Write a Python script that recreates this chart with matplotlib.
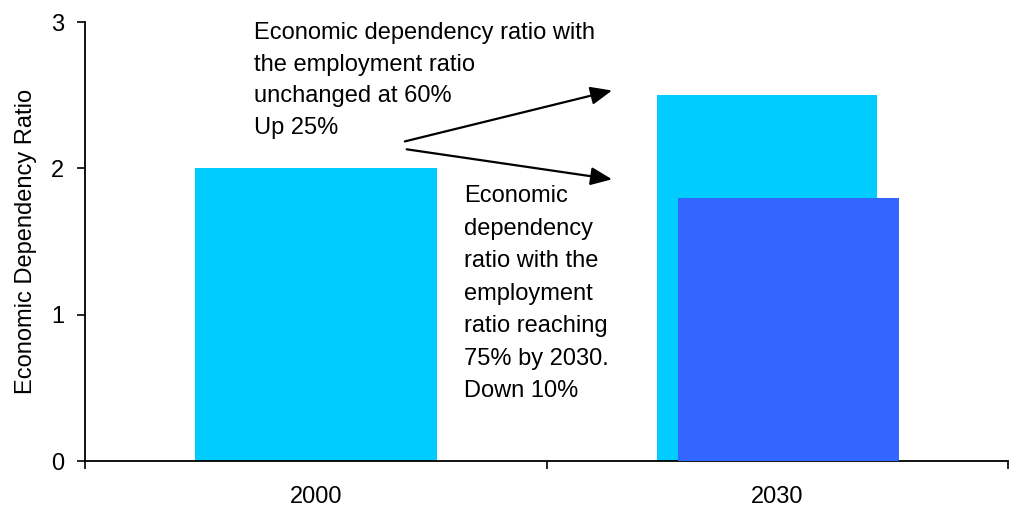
import matplotlib
matplotlib.use("Agg")
import matplotlib.pyplot as plt

plt.rcParams['font.family'] = ['Liberation Sans', 'DejaVu Sans']

categories = ["2000", "2030"]
unchanged_values = [2.0, 2.5]      # light blue
reaching_values = [None, 1.8]      # dark blue (2030 only)
y_ticks = [0, 1, 2, 3]

light = "#00CCFF"
dark = "#3366FF"

fig = plt.figure(figsize=(10.19, 5.08), dpi=100)
ax = fig.add_axes([85/1019, 1-461/508, (1008-85)/1019, (461-22)/508])

centers = [i + 0.5 for i in range(len(categories))]
# 2000 bar
ax.bar(centers[0], unchanged_values[0], width=0.524, color=light, zorder=2)
# 2030 bars
ax.bar(centers[1] - 0.022, unchanged_values[1], width=0.477, color=light, zorder=2)
ax.bar(centers[1] + 0.024, reaching_values[1], width=0.479, color=dark, zorder=3)

ax.set_xlim(0, len(categories))
ax.set_ylim(0, 3)
ax.set_yticks(y_ticks)
ax.set_xticks(centers)
ax.set_xticklabels(categories)
ax.set_xticks(range(len(categories) + 1), minor=True)
ax.tick_params(axis='x', which='major', length=0, pad=18, labelsize=17)
ax.tick_params(axis='x', which='minor', length=6, width=1.2, direction='out')
ax.tick_params(axis='y', length=6, width=1.2, direction='out', pad=9, labelsize=17)

for s in ['top', 'right']:
    ax.spines[s].set_visible(False)
for s in ['left', 'bottom']:
    ax.spines[s].set_linewidth(1.3)

ax.set_ylabel("Economic Dependency Ratio", fontsize=17, labelpad=10)

ax.text((254-85)/461.5, 3.0, "Economic dependency ratio with\nthe employment ratio\nunchanged at 60%\nUp 25%",
        fontsize=17, ha='left', va='top', linespacing=1.565, zorder=5)
ax.text((464-85)/461.5, 1.885, "Economic\ndependency\nratio with the\nemployment\nratio reaching\n75% by 2030.\nDown 10%",
        fontsize=17, ha='left', va='top', linespacing=1.62, zorder=5)

arrowprops = dict(arrowstyle='-|>,head_length=1.3,head_width=0.55', color='black', lw=1.6, shrinkA=0, shrinkB=0)
ax.annotate("", xy=(1.142, 2.532), xytext=(0.693, 2.184), arrowprops=arrowprops, zorder=6)
ax.annotate("", xy=(1.142, 1.925), xytext=(0.697, 2.13), arrowprops=arrowprops, zorder=6)

fig.savefig("out.png", dpi=100)
